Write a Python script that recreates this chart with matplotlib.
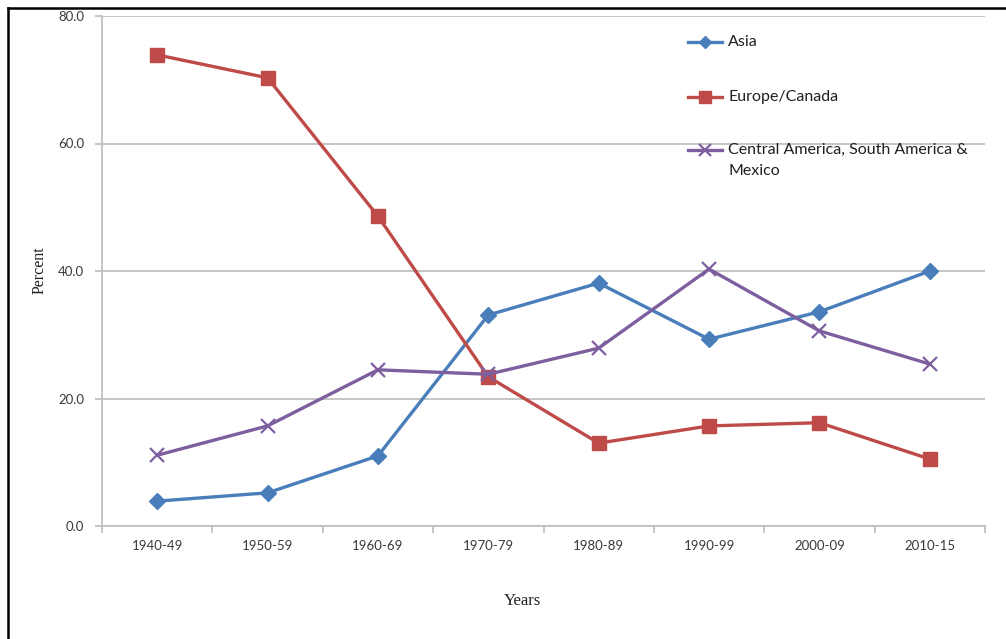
import matplotlib
matplotlib.use("Agg")
import matplotlib.pyplot as plt
from matplotlib.lines import Line2D

# Share of immigrants by region of origin, by decade
periods = ["1940-49", "1950-59", "1960-69", "1970-79", "1980-89", "1990-99", "2000-09", "2010-15"]
asia = [3.9, 5.2, 11.0, 33.1, 38.1, 29.3, 33.6, 40.0]
europe_canada = [73.9, 70.3, 48.6, 23.4, 13.0, 15.7, 16.2, 10.5]
latin_america = [11.1, 15.7, 24.5, 23.8, 27.9, 40.3, 30.6, 25.4]
y_ticks = [0, 20, 40, 60, 80]

series = [
    ("Asia", asia, "#4A7EBB", "D", 8, 1.0),
    ("Europe/Canada", europe_canada, "#BE4B48", "s", 10, 1.0),
    ("Central America, South America &\nMexico", latin_america, "#7D5FA0", "x", 10, 1.6),
]

W, H = 1006, 639
fig = plt.figure(figsize=(W / 100, H / 100), dpi=100)
ax = fig.add_axes([102 / W, 1 - 526 / H, (985 - 102) / W, (526 - 16) / H])

x = list(range(len(periods)))
for label, vals, color, marker, ms, mew in series:
    ax.plot(x, vals, color=color, lw=2.4, marker=marker, markersize=ms,
            markeredgewidth=mew, markerfacecolor=color, markeredgecolor=color,
            solid_joinstyle="round", zorder=3)

grid_col = "#C0C0C0"
ax.set_xlim(-0.5, len(periods) - 0.5)
ax.set_ylim(0, 80)
ax.set_yticks(y_ticks)
ax.set_yticklabels([f"{v:.1f}" for v in y_ticks])
ax.yaxis.grid(True, color=grid_col, lw=1.3)
ax.set_axisbelow(True)

ax.set_xticks(x)
ax.set_xticklabels(periods)
ax.set_xticks([i - 0.5 for i in range(len(periods) + 1)], minor=True)
ax.tick_params(axis="x", which="major", length=0, pad=10)
ax.tick_params(axis="x", which="minor", length=5, color=grid_col, width=1.3)
ax.tick_params(axis="y", length=5, color=grid_col, width=1.3, pad=8)

for lab in ax.get_xticklabels() + ax.get_yticklabels():
    lab.set_fontfamily("Lato")
    lab.set_fontsize(9.5)
    lab.set_color("#3A3A3A")

for side in ("top", "right"):
    ax.spines[side].set_visible(False)
for side in ("left", "bottom"):
    ax.spines[side].set_color(grid_col)
    ax.spines[side].set_linewidth(1.3)

fig.text(40 / W, 1 - 270 / H, "Percent", rotation=90, ha="center", va="center",
         family="Liberation Serif", fontsize=11.5, color="#202020")
fig.text(522 / W, 1 - 601 / H, "Years", ha="center", va="center",
         family="Liberation Serif", fontsize=12, color="#202020")

# Legend drawn as a key beside the upper right of the plot
key_y = [42, 97, 150]
for (label, vals, color, marker, ms, mew), yy in zip(series, key_y):
    yf = 1 - yy / H
    fig.add_artist(Line2D([688 / W, 722 / W], [yf, yf], color=color, lw=2.4))
    fig.add_artist(Line2D([705 / W], [yf], color=color, marker=marker,
                          markersize=ms * 0.8, markeredgewidth=mew,
                          markerfacecolor=color, markeredgecolor=color))
    if "\n" in label:
        fig.text(728 / W, yf + 7 / H, label, ha="left", va="top",
                 family="Lato", fontsize=11.5, color="#202020", linespacing=1.6)
    else:
        fig.text(728 / W, yf, label, ha="left", va="center",
                 family="Lato", fontsize=11.5, color="#202020")

# Page frame lines
fig.add_artist(Line2D([8 / W, 1], [1 - 8 / H, 1 - 8 / H], color="black", lw=1.8))
fig.add_artist(Line2D([8 / W, 8 / W], [0, 1 - 8 / H], color="black", lw=1.8))

fig.savefig("out.png", dpi=100, facecolor="white")
